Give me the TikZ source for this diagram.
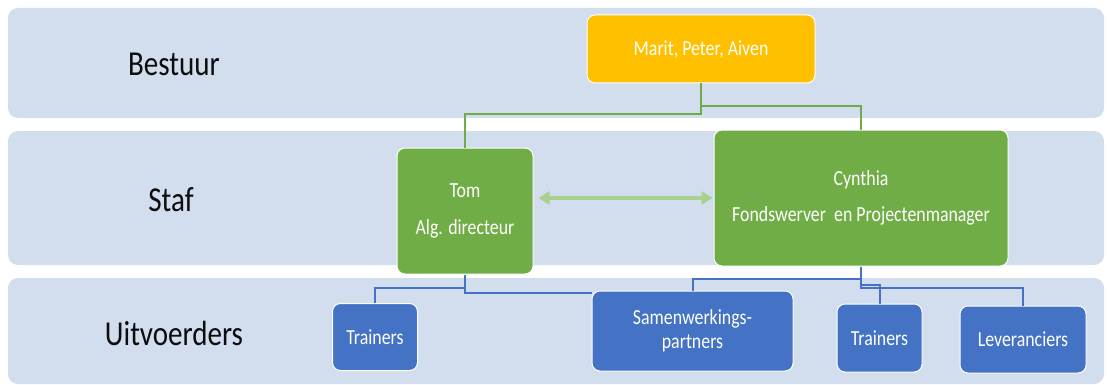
\documentclass[tikz,border=0pt]{standalone}
\usepackage{fontspec}
\setmainfont[FakeStretch=0.83]{Carlito}
\usetikzlibrary{arrows.meta}
\definecolor{bandc}{RGB}{210,221,238}
\definecolor{goldc}{HTML}{FFC000}
\definecolor{greenc}{HTML}{70AD47}
\definecolor{bluec}{HTML}{4472C4}
\definecolor{lgreenc}{HTML}{A9D18E}
\definecolor{labelc}{HTML}{0D0D0D}
\tikzset{
  band/.style={fill=bandc, draw=none, rounded corners=10pt},
  lvl/.style={text=labelc, font=\fontsize{35}{40}\selectfont, anchor=base, inner sep=0pt},
  boxbase/.style={draw=white, line width=1pt, rounded corners=8pt, text=white, align=center, inner sep=0pt},
  goldbox/.style={boxbase, fill=goldc},
  greenbox/.style={boxbase, fill=greenc},
  bluebox/.style={boxbase, fill=bluec},
  gline/.style={draw=greenc, line width=2pt},
  bline/.style={draw=bluec, line width=2pt},
  twoway/.style={draw=lgreenc, line width=4pt, {Triangle[length=11pt,width=13pt]}-{Triangle[length=11pt,width=13pt]}}
}
\begin{document}
\begin{tikzpicture}[x=1pt,y=-1pt]
\useasboundingbox (0,0) rectangle (1107,385);
% bands
\fill[band] (8,8) rectangle (1104,118);
\fill[band] (8,131) rectangle (1104,265);
\fill[band] (8,278) rectangle (1104,384);
% level labels
\node[lvl] (lb) at (174,76) {Bestuur};
\node[lvl] (ls) at (171,211) {Staf};
\node[lvl] (lu) at (174,345) {Uitvoerders};
% boxes
\node[goldbox, minimum width=228pt, minimum height=68pt, font=\fontsize{21.5}{24}\selectfont] (marit) at (701,49) {Marit, Peter, Aiven};
\node[greenbox, minimum width=136pt, minimum height=126pt, font=\fontsize{21.5}{37}\selectfont] (tom) at (465,211) {Tom\\Alg. directeur};
\node[greenbox, minimum width=294pt, minimum height=136pt, font=\fontsize{21.5}{36}\selectfont] (cyn) at (861,198) {Cynthia\\Fondswerver\ \ en Projectenmanager};
\node[bluebox, minimum width=85pt, minimum height=67pt, font=\fontsize{21.5}{24}\selectfont] (tr1) at (375,337) {Trainers};
\node[bluebox, minimum width=201pt, minimum height=80pt, font=\fontsize{21.5}{24}\selectfont] (sam) at (692.5,331) {Samenwerkings-\\partners};
\node[bluebox, minimum width=85pt, minimum height=68pt, font=\fontsize{21.5}{24}\selectfont] (tr2) at (879.5,338) {Trainers};
\node[bluebox, minimum width=126pt, minimum height=67pt, font=\fontsize{21.5}{24}\selectfont] (lev) at (1023,339.5) {Leveranciers};
% green connectors
\draw[gline] (marit.south) -- ++(0,31) -| (tom.north);
\draw[gline] (marit.south) -- ++(0,23) -| (cyn.north);
% two-way arrow
\draw[twoway] ([xshift=5pt]tom.east |- 0,198) -- ([xshift=-1pt]cyn.west |- 0,198);
% blue connectors
\draw[bline] (tom.south) -- ++(0,13) -| (tr1.north);
\draw[bline] (tom.south) |- ([yshift=-2pt]sam.north west);
\draw[bline] (cyn.south) -- ++(0,12) -| (sam.north);
\draw[bline] (cyn.south) -- ++(0,18) -| (tr2.north);
\draw[bline] (cyn.south) -- ++(0,21) -| (lev.north);
\end{tikzpicture}
\end{document}
